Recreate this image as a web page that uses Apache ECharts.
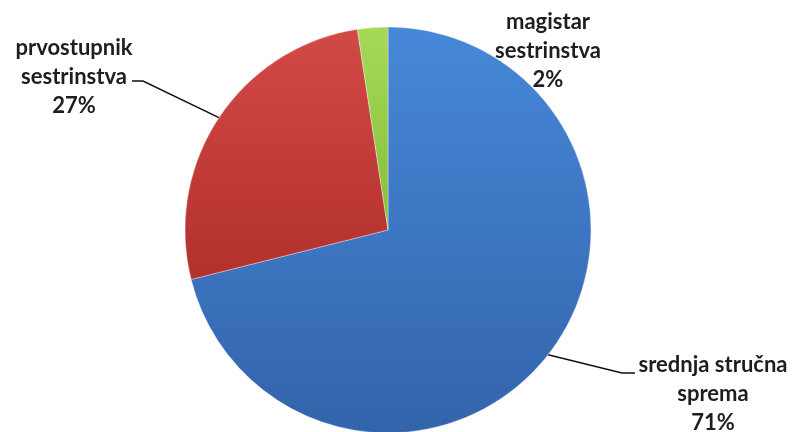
<!DOCTYPE html>
<html><head><meta charset="utf-8">
<script src="https://cdn.jsdelivr.net/npm/echarts@6/dist/echarts.min.js"></script>
<style>html,body{margin:0;padding:0;background:#fff}#c{width:796px;height:432px}</style>
</head><body><div id="c"></div>
<script>
const categories = ['srednja stručna\nsprema', 'prvostupnik\nsestrinstva', 'magistar\nsestrinstva'];
const values = [59, 22, 2];
const colorsTop = ['#4688d8', '#d24a46', '#a6d957'];
const colorsBottom = ['#3364ab', '#b3302d', '#86bd3c'];
// label anchor positions (centre of text block)
const labelPos = [[713, 394], [74, 77], [548, 51]];

const chart = echarts.init(document.getElementById('c'));
const data = categories.map((n, i) => ({
  name: n, value: values[i],
  itemStyle: { color: new echarts.graphic.LinearGradient(0, 0, 0, 1, [
    { offset: 0, color: colorsTop[i] }, { offset: 1, color: colorsBottom[i] }]) },
  labelLine: { show: i !== 2 }
}));
chart.setOption({
  animation: false,
  series: [{
    type: 'pie',
    center: [388, 230],
    radius: 203,
    startAngle: 90,
    clockwise: true,
    percentPrecision: 0,
    data: data,
    itemStyle: { borderColor: 'rgba(255,255,255,0.35)', borderWidth: 1 },
    label: {
      show: true,
      formatter: '{b}\n{d}%',
      fontFamily: 'Lato',
      fontWeight: 'bold',
      fontSize: 22,
      lineHeight: 29,
      color: '#1e1e1e',
      align: 'center'
    },
    labelLine: { show: true, lineStyle: { color: '#111', width: 1.5 } },
    labelLayout: function (p) {
      const i = p.dataIndex;
      const pos = labelPos[i];
      const res = { x: pos[0], y: pos[1], align: 'center', verticalAlign: 'middle' };
      if (p.labelLinePoints) {
        const s = p.labelLinePoints[0];
        if (i === 0) res.labelLinePoints = [s, [pos[0] - 91, pos[1] - 21], [pos[0] - 78, pos[1] - 21]];
        if (i === 1) res.labelLinePoints = [s, [pos[0] + 69, pos[1] + 4], [pos[0] + 58, pos[1] + 4]];
      }
      return res;
    }
  }]
});
</script></body></html>
